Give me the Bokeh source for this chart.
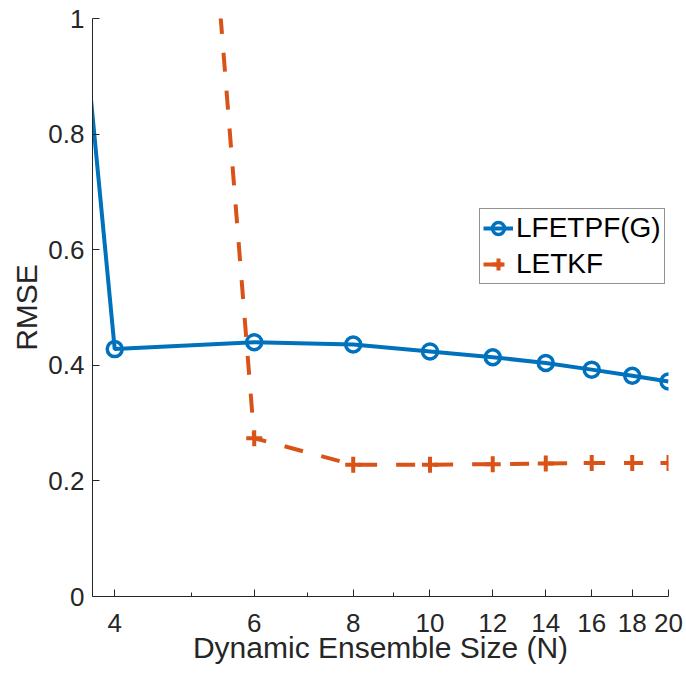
from bokeh.plotting import figure
from bokeh.models import Range1d, FixedTicker, BasicTickFormatter, NumeralTickFormatter, Legend, LegendItem
from bokeh.embed import file_html
from bokeh.resources import INLINE

# Data
n_blue = [3, 4, 6, 8, 10, 12, 14, 16, 18, 20]
rmse_lfetpf = [2.23, 0.428, 0.440, 0.436, 0.424, 0.414, 0.404, 0.3925, 0.382, 0.372]
n_red = [4, 6, 8, 10, 12, 14, 16, 18, 20]
rmse_letkf = [3.30, 0.274, 0.228, 0.228, 0.229, 0.230, 0.231, 0.231, 0.231]
x_ticks = [4, 6, 8, 10, 12, 14, 16, 18, 20]
x_minor = [5, 7, 9]
y_ticks = [0, 0.2, 0.4, 0.6, 0.8, 1.0]

BLUE = "#0072BD"
RED = "#D95319"
AX = "#262626"
FONT = "Liberation Sans"

p = figure(width=686, height=673, x_axis_type="log",
           x_range=Range1d(3.75, 20), y_range=Range1d(0, 1),
           output_backend="svg", toolbar_location=None,
           min_border_left=92, min_border_right=18, min_border_top=18, min_border_bottom=77)
p.outline_line_color = None
p.xgrid.visible = False
p.ygrid.visible = False
p.background_fill_color = "white"
p.border_fill_color = "white"

l1 = p.line(n_blue, rmse_lfetpf, line_color=BLUE, line_width=4)
s1 = p.scatter(n_blue, rmse_lfetpf, marker="circle", size=15, line_color=BLUE,
               line_width=3.5, fill_color=None)
l2 = p.line(n_red, rmse_letkf, line_color=RED, line_width=4, line_dash="19 19")
s2 = p.scatter(n_red, rmse_letkf, marker="cross", size=16, line_color=RED, line_width=4)

p.xaxis.ticker = FixedTicker(ticks=x_ticks, minor_ticks=x_minor)
p.xaxis.formatter = BasicTickFormatter()
p.yaxis.ticker = FixedTicker(ticks=y_ticks, minor_ticks=[])
p.yaxis.formatter = NumeralTickFormatter(format="0.[0]")

for ax in [p.xaxis[0], p.yaxis[0]]:
    ax.axis_line_color = AX
    ax.axis_line_width = 1
    ax.major_tick_line_color = AX
    ax.minor_tick_line_color = AX
    ax.major_tick_in = 7
    ax.major_tick_out = 0
    ax.minor_tick_in = 4
    ax.minor_tick_out = 0
    ax.major_label_text_font = FONT
    ax.major_label_text_font_size = "26px"
    ax.major_label_text_color = AX
    ax.axis_label_text_font = FONT
    ax.axis_label_text_font_size = "30px"
    ax.axis_label_text_color = AX
    ax.axis_label_text_font_style = "normal"

p.xaxis.axis_label = "Dynamic Ensemble Size (N)"
p.yaxis.axis_label = "RMSE"
p.xaxis.major_label_standoff = 17
p.xaxis.axis_label_standoff = -4
p.yaxis.major_label_standoff = 8
p.yaxis.axis_label_standoff = 2

legend = Legend(items=[LegendItem(label="LFETPF(G)", renderers=[l1, s1]),
                       LegendItem(label="LETKF", renderers=[l2, s2])],
                location=(387, 312))
legend.label_text_font = FONT
legend.label_text_font_size = "28px"
legend.label_text_color = "black"
legend.glyph_width = 30
legend.glyph_height = 30
legend.label_standoff = 3
legend.label_height = 30
legend.padding = 3
legend.spacing = 4
legend.margin = 0
legend.border_line_color = AX
legend.border_line_width = 1
legend.background_fill_color = "white"
p.add_layout(legend, "center")

open("out.html", "w").write(file_html(p, INLINE))
